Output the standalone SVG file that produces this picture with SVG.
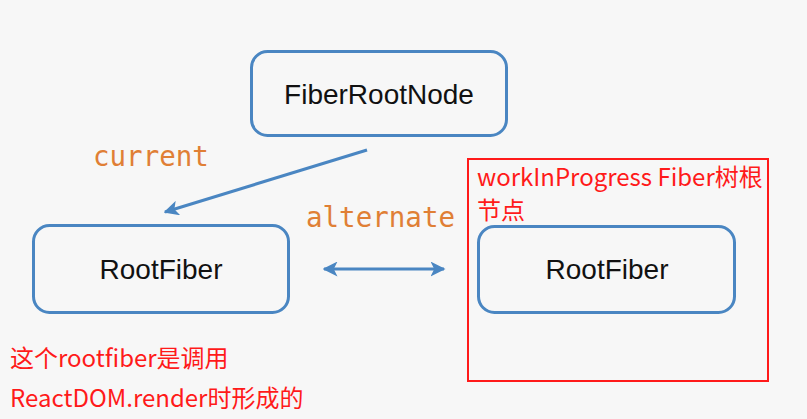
<svg xmlns="http://www.w3.org/2000/svg" width="807" height="419" viewBox="0 0 807 419">
<style>
.box{fill:#f7f7f7;stroke:#4a86c2;stroke-width:3}
.lbl{font-family:"Liberation Sans",Arial,sans-serif;font-size:28px;fill:#111;text-anchor:middle}
.mono{font-family:"DejaVu Sans Mono","Liberation Mono",monospace;font-size:27.5px;fill:#e07f35}
.red{font-family:"Noto Sans CJK SC","Noto Sans",sans-serif;font-size:24px;fill:#ff1a1a}
.con{stroke:#4a86c2;stroke-width:3;fill:none}
</style>
<defs>
<marker id="ah" viewBox="0 0 10 10" refX="9" refY="5" markerWidth="5" markerHeight="5" orient="auto-start-reverse" markerUnits="strokeWidth">
<path d="M0,0 L10,5 L0,10 L2.5,5 z" fill="#4a86c2"/>
</marker>
</defs>
<rect width="807" height="419" fill="#f7f7f7"/>
<g id="connectors">
<line class="con" x1="367" y1="150" x2="165" y2="212" marker-end="url(#ah)"/>
<line class="con" x1="324" y1="269" x2="444" y2="269" marker-start="url(#ah)" marker-end="url(#ah)"/>
<text class="mono" x="93" y="166">current</text>
<text class="mono" x="306" y="227">alternate</text>
</g>
<g id="fiberRootNode">
<rect class="box" x="251.5" y="51.5" width="255" height="84" rx="16"/>
<text class="lbl" x="379" y="104">FiberRootNode</text>
</g>
<g id="rootFiberCurrent">
<rect class="box" x="33.5" y="225.5" width="255" height="87" rx="16"/>
<text class="lbl" x="161" y="279">RootFiber</text>
</g>
<g id="wipFrame">
<rect x="468" y="159" width="300" height="222" fill="none" stroke="#ff1a1a" stroke-width="2"/>
<text class="red"><tspan x="477" y="186">workInProgress Fiber树根</tspan><tspan x="477" y="219">节点</tspan></text>
</g>
<g id="rootFiberWip">
<rect class="box" x="478.5" y="226.5" width="256" height="86" rx="16"/>
<text class="lbl" x="607" y="279">RootFiber</text>
</g>
<g id="note">
<text class="red" x="10" y="367">这个rootfiber是调用</text>
<text class="red" x="10" y="407">ReactDOM.render时形成的</text>
</g>
</svg>
